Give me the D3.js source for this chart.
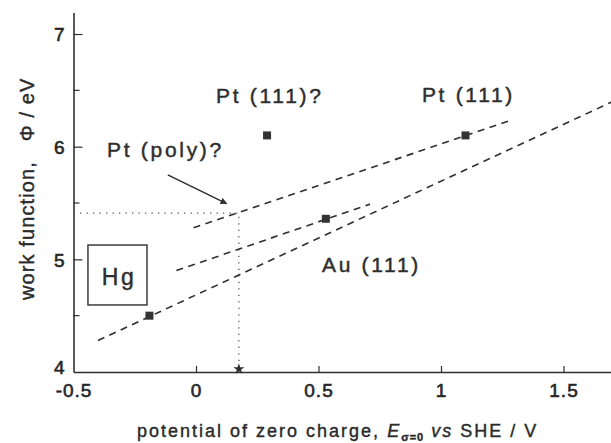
<!DOCTYPE html>
<html>
<head>
<meta charset="utf-8">
<script src="https://cdn.jsdelivr.net/npm/d3@7"></script>
<style>
  body { margin: 0; background: #fff; }
  svg { display: block; font-family: "Liberation Sans", Arial, Helvetica, sans-serif; }
  .tick text { font-size: 19px; fill: #262626; stroke: #262626; stroke-width: 0.6px; letter-spacing: 1px; }
  .lbl { font-size: 21px; fill: #2e2e2e; stroke: #2e2e2e; stroke-width: 0.45px; letter-spacing: 2.7px; }
  .ttl { fill: #2a2a2a; stroke: #2a2a2a; stroke-width: 0.4px; }
</style>
</head>
<body>
<div id="chart"></div>
<script>
// measured points (pzc vs SHE in V, work function in eV)
var pointNames = ["Hg", "Pt (111)?", "Au (111)", "Pt (111)"];
var pzc = [-0.19, 0.29, 0.53, 1.10];
var workFn = [4.50, 6.10, 5.36, 6.10];

// dashed correlation lines, start and end
var fitStartX = [-0.40, -0.08, -0.01];
var fitStartY = [4.28, 4.90, 5.28];
var fitEndX = [1.70, 0.71, 1.28];
var fitEndY = [6.40, 5.49, 6.23];

// Pt (poly) estimate
var polyPzc = 0.175;
var polyPhi = 5.41;

var xTicks = [-0.5, 0, 0.5, 1, 1.5];
var xTickLabels = ["-0.5", "0", "0.5", "1", "1.5"];
var yTicks = [4, 5, 6, 7];
var yMinor = [4.5, 5.5, 6.5];

var W = 611, H = 443;
var ink = "#2f2f2f";

var svg = d3.select("#chart").append("svg")
    .attr("width", W)
    .attr("height", H);

var x = d3.scaleLinear().domain([-0.5, 1.7]).range([73.5, 612.5]);
var y = d3.scaleLinear().domain([4, 7.19]).range([372, 12.6]);

// axes, ticks pointing inward
var xAxis = svg.append("g")
    .attr("transform", "translate(0," + y(4) + ")")
    .call(d3.axisBottom(x).tickValues(xTicks)
        .tickFormat(function(d, i){ return xTickLabels[i]; })
        .tickSize(-6).tickSizeOuter(0).tickPadding(12));

var yAxis = svg.append("g")
    .attr("transform", "translate(" + x(-0.5) + ",0)")
    .call(d3.axisLeft(y).tickValues(yTicks).tickFormat(d3.format("d"))
        .tickSize(-9).tickSizeOuter(0).tickPadding(8));

yAxis.selectAll(".tick text").attr("dy", "0.36em");
// bottom-left "4" sits just above "-0.5"
yAxis.selectAll(".tick").filter(function(d){ return d == 4; }).select("text").attr("dy", "0.1em");
yAxis.selectAll(".tick").filter(function(d){ return d == 4; }).select("line").remove();
xAxis.selectAll(".tick").filter(function(d){ return d == -0.5; }).select("line").remove();

svg.selectAll(".domain").attr("stroke", ink).attr("stroke-width", 1.6);
svg.selectAll(".tick line").attr("stroke", ink).attr("stroke-width", 1.2);

svg.selectAll(".minor")
    .data(yMinor)
    .enter().append("line")
    .attr("x1", x(-0.5)).attr("x2", x(-0.5) + 6)
    .attr("y1", function(d){ return y(d); })
    .attr("y2", function(d){ return y(d); })
    .attr("stroke", ink).attr("stroke-width", 1.2);

// dotted guide lines for Pt (poly)
svg.append("path")
    .attr("d", "M" + x(-0.5) + "," + y(polyPhi) + " L" + x(polyPzc) + "," + y(polyPhi)
        + " L" + x(polyPzc) + "," + y(4))
    .attr("fill", "none")
    .attr("stroke", "#555")
    .attr("stroke-width", 1.3)
    .attr("stroke-dasharray", "1.3,5.2");

svg.append("path")
    .attr("d", d3.symbol(d3.symbolStar).size(38)())
    .attr("transform", "translate(" + x(polyPzc) + "," + (y(4) - 3) + ")")
    .attr("fill", ink);

// dashed lines
for(var i = 0; i < fitStartX.length; i++){
    svg.append("line")
        .attr("x1", x(fitStartX[i])).attr("y1", y(fitStartY[i]))
        .attr("x2", x(fitEndX[i])).attr("y2", y(fitEndY[i]))
        .attr("stroke", ink)
        .attr("stroke-width", 1.6)
        .attr("stroke-dasharray", "7,5.5");
}

// square markers
svg.selectAll(".pt")
    .data(pzc)
    .enter().append("rect")
    .attr("x", function(d){ return x(d) - 4; })
    .attr("y", function(d, i){ return y(workFn[i]) - 4; })
    .attr("width", 8).attr("height", 8)
    .attr("fill", "#333");

// arrow to the Pt (poly) point
svg.append("defs").append("marker")
    .attr("id", "head")
    .attr("viewBox", "0 0 10 10")
    .attr("refX", 9).attr("refY", 5)
    .attr("markerWidth", 4.5).attr("markerHeight", 4.5)
    .attr("orient", "auto")
    .append("path")
    .attr("d", "M0,0 L10,5 L0,10 z")
    .attr("fill", ink);

svg.append("line")
    .attr("x1", x(-0.115)).attr("y1", y(5.75))
    .attr("x2", x(0.125)).attr("y2", y(5.495))
    .attr("stroke", ink)
    .attr("stroke-width", 1.5)
    .attr("marker-end", "url(#head)");

// labels
svg.append("text").attr("class", "lbl").attr("x", x(-0.363)).attr("y", y(5.91)).text("Pt (poly)?");
svg.append("text").attr("class", "lbl").attr("x", x(0.082)).attr("y", y(6.39)).text(pointNames[1]);
svg.append("text").attr("class", "lbl").attr("x", x(0.922)).attr("y", y(6.40)).text(pointNames[3]);
svg.append("text").attr("class", "lbl").attr("x", x(0.514)).attr("y", y(4.89)).text(pointNames[2]);

// Hg box
svg.append("rect")
    .attr("x", x(-0.441)).attr("y", y(5.127))
    .attr("width", x(-0.200) - x(-0.441))
    .attr("height", y(4.595) - y(5.127))
    .attr("fill", "none")
    .attr("stroke", ink)
    .attr("stroke-width", 1.4);

svg.append("text").attr("class", "lbl")
    .attr("x", x(-0.32) + 1.5).attr("y", y(4.77))
    .attr("text-anchor", "middle")
    .style("font-size", "23px")
    .text(pointNames[0]);

// axis titles
var xt = svg.append("text")
    .attr("class", "ttl")
    .attr("x", 137).attr("y", 437)
    .style("font-size", "18px")
    .style("letter-spacing", "2px");
xt.append("tspan").text("potential of zero charge, ");
xt.append("tspan").style("font-style", "italic").text("E");
xt.append("tspan").attr("dy", 4).style("font-size", "11px").style("font-weight", "bold").style("letter-spacing", "1px").text("σ=0");
xt.append("tspan").attr("dy", -4).style("font-style", "italic").text(" vs");
xt.append("tspan").text(" SHE / V");

var yt = svg.append("text")
    .attr("class", "ttl")
    .attr("transform", "translate(34,300) rotate(-90)")
    .style("font-size", "20px")
    .style("letter-spacing", "1.1px");
yt.append("tspan").text("work function,");
yt.append("tspan").attr("dx", 20).text("Φ / eV");
</script>
</body>
</html>
